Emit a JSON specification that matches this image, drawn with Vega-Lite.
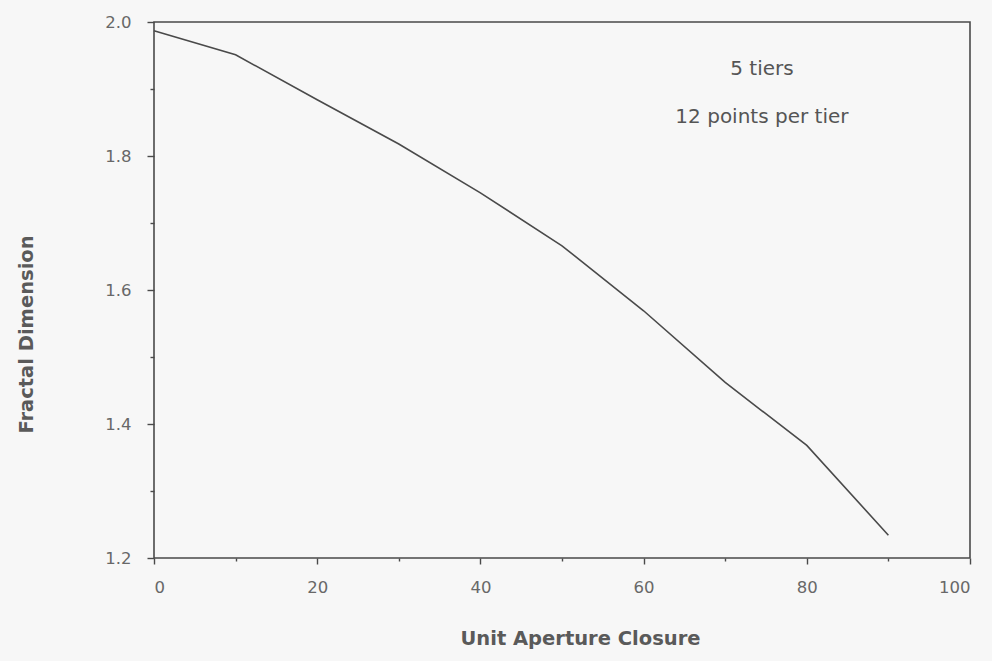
{
  "$schema": "https://vega.github.io/schema/vega-lite/v6.json",
  "width": 816,
  "height": 536,
  "padding": {"left": 154, "top": 22, "right": 22, "bottom": 103},
  "autosize": {"type": "none"},
  "background": "#f7f7f7",
  "config": {
    "view": {"stroke": "#4a4a4a", "strokeWidth": 1.6},
    "font": "DejaVu Sans",
    "axis": {
      "domain": false,
      "grid": false,
      "tickColor": "#4a4a4a",
      "tickWidth": 1.4,
      "labelColor": "#686868",
      "labelFont": "DejaVu Sans",
      "labelFontSize": 16.5,
      "titleColor": "#5a5a5a",
      "titleFont": "DejaVu Sans",
      "titleFontSize": 19.5,
      "titleFontWeight": "bold",
      "titleAlign": "center",
      "titleBaseline": "middle"
    }
  },
  "datasets": {
    "curve": [
      {"closure": 0, "dimension": 1.987},
      {"closure": 10, "dimension": 1.951},
      {"closure": 20, "dimension": 1.884},
      {"closure": 30, "dimension": 1.818},
      {"closure": 40, "dimension": 1.745},
      {"closure": 50, "dimension": 1.666},
      {"closure": 60, "dimension": 1.569},
      {"closure": 70, "dimension": 1.462},
      {"closure": 80, "dimension": 1.368},
      {"closure": 90, "dimension": 1.234}
    ],
    "notes": [
      {"closure": 74.5, "dimension": 1.93, "text": "5 tiers"},
      {"closure": 74.5, "dimension": 1.858, "text": "12 points per tier"}
    ]
  },
  "layer": [
    {
      "data": {"name": "curve"},
      "mark": {"type": "line", "color": "#4a4a4a", "strokeWidth": 1.6},
      "encoding": {
        "x": {
          "field": "closure",
          "type": "quantitative",
          "scale": {"domain": [0, 100], "nice": false},
          "axis": {
            "title": "Unit Aperture Closure",
            "titleX": 426,
            "titleY": 80,
            "values": [0, 10, 20, 30, 40, 50, 60, 70, 80, 90, 100],
            "labelExpr": "datum.value % 20 == 0 ? datum.label : ''",
            "labelPadding": 15,
            "tickSize": {"condition": {"test": "datum.value % 20 == 0", "value": 6}, "value": 3}
          }
        },
        "y": {
          "field": "dimension",
          "type": "quantitative",
          "scale": {"domain": [1.2, 2.0], "nice": false, "zero": false},
          "axis": {
            "title": "Fractal Dimension",
            "titleX": -128,
            "titleY": 312,
            "values": [1.2, 1.3, 1.4, 1.5, 1.6, 1.7, 1.8, 1.9, 2.0],
            "format": ".1f",
            "labelExpr": "round(datum.value * 10) % 2 == 0 ? datum.label : ''",
            "labelPadding": 16,
            "tickSize": {"condition": {"test": "round(datum.value * 10) % 2 == 0", "value": 7}, "value": 4}
          }
        }
      }
    },
    {
      "data": {"name": "notes"},
      "mark": {"type": "text", "font": "DejaVu Sans", "fontSize": 20, "color": "#555555", "align": "center", "baseline": "middle"},
      "encoding": {
        "x": {"field": "closure", "type": "quantitative"},
        "y": {"field": "dimension", "type": "quantitative"},
        "text": {"field": "text"}
      }
    }
  ]
}
